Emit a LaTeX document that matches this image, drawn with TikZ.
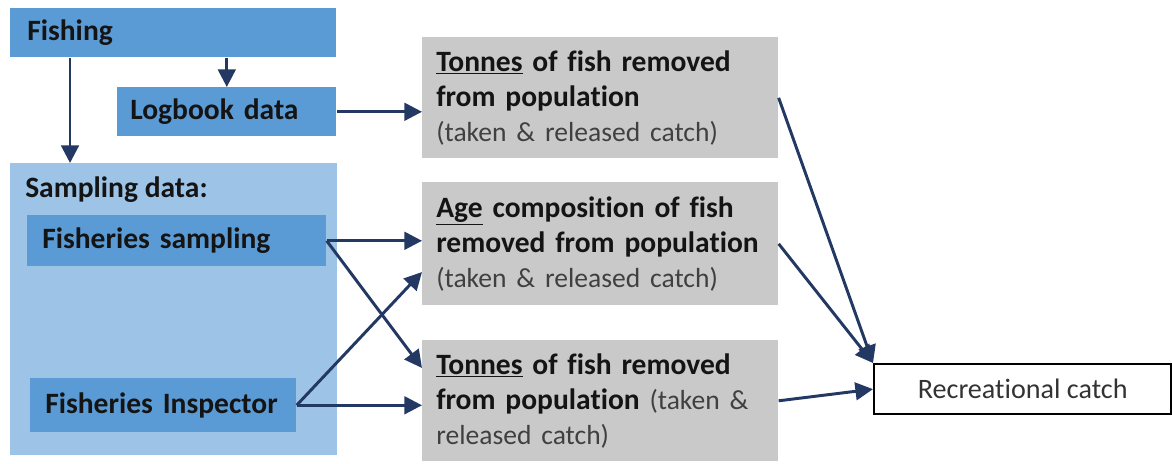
\documentclass[tikz,border=0pt]{standalone}
\usepackage{fontspec}
\setmainfont{Carlito}[Ligatures=NoCommon]
\usetikzlibrary{arrows.meta,positioning}
\definecolor{fishblue}{RGB}{91,155,213}
\definecolor{samplblue}{RGB}{157,195,230}
\definecolor{boxgray}{RGB}{201,201,201}
\definecolor{arrnavy}{RGB}{35,57,100}
\definecolor{txtdark}{RGB}{20,20,20}
\newcommand{\bigfont}{\fontsize{21}{25}\selectfont}
\newcommand{\parentxt}[1]{{\fontsize{19.6}{25}\selectfont\textcolor{black!75}{#1}}}
\tikzset{
  bluebox/.style={fill=fishblue, anchor=north west, inner ysep=0pt, align=left, font=\bigfont\bfseries, text=txtdark},
  graybox/.style={fill=boxgray, anchor=north west, minimum width=8.9cm, inner xsep=0.35cm, text width=8.2cm, align=left, font=\bigfont, text=txtdark},
  catchbox/.style={draw=black, line width=1.6pt, fill=white, anchor=north west, minimum width=7.425cm, minimum height=1.25cm, font=\fontsize{20}{24}\selectfont, text=black!80},
  farr/.style={-{Triangle[length=4.4mm,width=4.4mm]}, arrnavy, line width=2.1pt},
}
\begin{document}
\begin{tikzpicture}[x=0.025cm, y=-0.025cm]
\useasboundingbox (0,0) rectangle (1172,463);
\node[bluebox, minimum height=1.225cm, inner xsep=0.425cm, text width=7.3cm] (fishing) at (10,8) {Fishing};
\node[bluebox, minimum height=1.225cm, inner xsep=0.325cm, text width=4.825cm] (logbook) at (117,87) {Logbook data};
\node[fill=samplblue, anchor=north west, minimum width=8.175cm, minimum height=7.3cm, inner sep=0pt] (sampling) at (10,163) {};
\node[anchor=west, inner sep=0pt, font=\bigfont\bfseries, text=txtdark] (samptitle) at (25,190) {Sampling data:};
\node[bluebox, minimum height=1.275cm, inner xsep=0.375cm, text width=6.725cm] (fsamp) at (27,215) {Fisheries sampling};
\node[bluebox, minimum height=1.35cm, inner xsep=0.375cm, text width=5.9cm] (inspector) at (30,378) {Fisheries Inspector};
\node[graybox, minimum height=3.025cm] (tonnesA) at (422,37)
  {\underline{\textbf{Tonnes}}\textbf{ of fish removed}\\\textbf{from population}\\\parentxt{(taken \& released catch)}};
\node[graybox, minimum height=3.075cm] (agecomp) at (422,182)
  {\underline{\textbf{Age}}\textbf{ composition of fish}\\\textbf{removed from population}\\\parentxt{(taken \& released catch)}};
\node[graybox, minimum height=3.025cm] (tonnesB) at (422,340)
  {\underline{\textbf{Tonnes}}\textbf{ of fish removed}\\\textbf{from population} \parentxt{(taken \&}\\\parentxt{released catch)}};
\node[catchbox] (catch) at (873,363) {Recreational catch};
\draw[farr] (fishing.south -| logbook.north) -- (logbook.north);
\draw[farr] ([xshift=1.5cm]fishing.south west) -- ([xshift=1.5cm]fishing.south west |- sampling.north);
\draw[farr] (logbook.east) -- (logbook.east -| tonnesA.west);
\draw[farr] (fsamp.east) -- (fsamp.east -| agecomp.west);
\draw[farr] (fsamp.east) -- ([yshift=-0.7cm]tonnesB.north west);
\draw[farr] (inspector.east) -- ([yshift=-2.25cm]agecomp.north west);
\draw[farr] (inspector.east) -- (inspector.east -| tonnesB.west);
\draw[farr] (tonnesA.east) -- (catch.north west);
\draw[farr] (agecomp.east) -- (catch.north west);
\draw[farr] (tonnesB.east) -- (catch.west);
\end{tikzpicture}
\end{document}
